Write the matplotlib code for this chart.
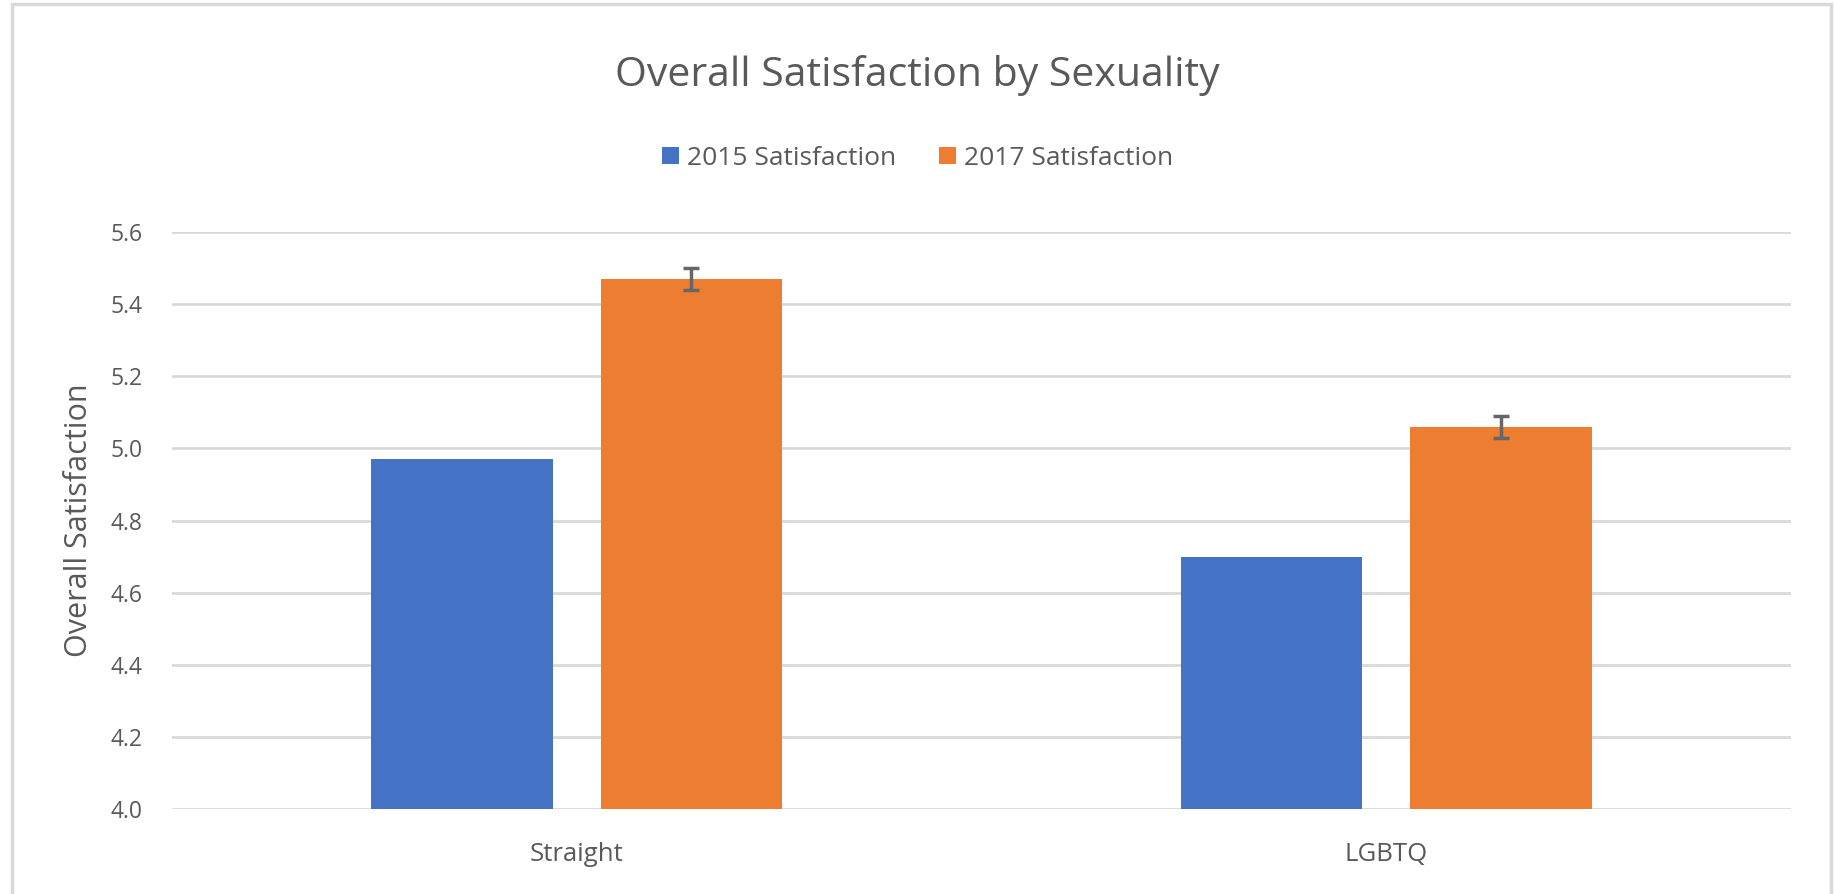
import matplotlib.pyplot as plt
import numpy as np
from matplotlib.patches import Rectangle

plt.rcParams['font.family'] = ['Open Sans', 'DejaVu Sans']

groups = ['Straight', 'LGBTQ']
sat_2015 = [4.97, 4.70]
sat_2017 = [5.47, 5.06]
err_2017 = [0.03, 0.03]
series_labels = ['2015 Satisfaction', '2017 Satisfaction']

blue = '#4472C4'
orange = '#ED7D31'
txt = '#595959'

fig = plt.figure(figsize=(18.35, 8.94), dpi=100)
ax = fig.add_axes([0.0937, 0.095, 0.8823, 0.6455])

x = np.arange(len(groups))
w = 0.224
off = 0.1417
ax.bar(x - off, sat_2015, w, color=blue, label=series_labels[0], zorder=2)
ax.bar(x + off, sat_2017, w, color=orange, label=series_labels[1], zorder=2,
       yerr=err_2017, error_kw=dict(ecolor='#666666', elinewidth=2.5, capsize=6, capthick=2.5))

ax.set_xlim(-0.5, 1.5)
ax.set_ylim(4.0, 5.6)
ax.set_yticks(np.arange(4.0, 5.61, 0.2))
ax.set_yticklabels([f'{v:.1f}' for v in np.arange(4.0, 5.61, 0.2)])
ax.set_xticks(x)
ax.set_xticklabels(groups)
ax.grid(axis='y', color='#D9D9D9', linewidth=2, zorder=0)
for s in ax.spines.values():
    s.set_visible(False)
ax.tick_params(axis='y', length=0, labelsize=16.5, colors=txt, pad=21)
ax.tick_params(axis='x', length=0, labelsize=18.5, colors=txt, pad=24)
ax.set_ylabel('Overall Satisfaction', fontsize=22, color=txt, labelpad=12)

fig.text(0.5, 0.916, 'Overall Satisfaction by Sexuality', ha='center', va='center',
         fontsize=29.5, color=txt)
fig.legend(loc='center', bbox_to_anchor=(0.5, 0.823), ncol=2, frameon=False,
           fontsize=19, labelcolor=txt, handlelength=0.65, handleheight=0.65,
           columnspacing=1.6, handletextpad=0.3)

fig.patches.append(Rectangle((12 / 1835, -0.1), 1819 / 1835, 1.1 - 4 / 894,
                             transform=fig.transFigure, fill=False,
                             edgecolor='#D9D9D9', linewidth=2.5))

fig.savefig('out.png', dpi=100)
